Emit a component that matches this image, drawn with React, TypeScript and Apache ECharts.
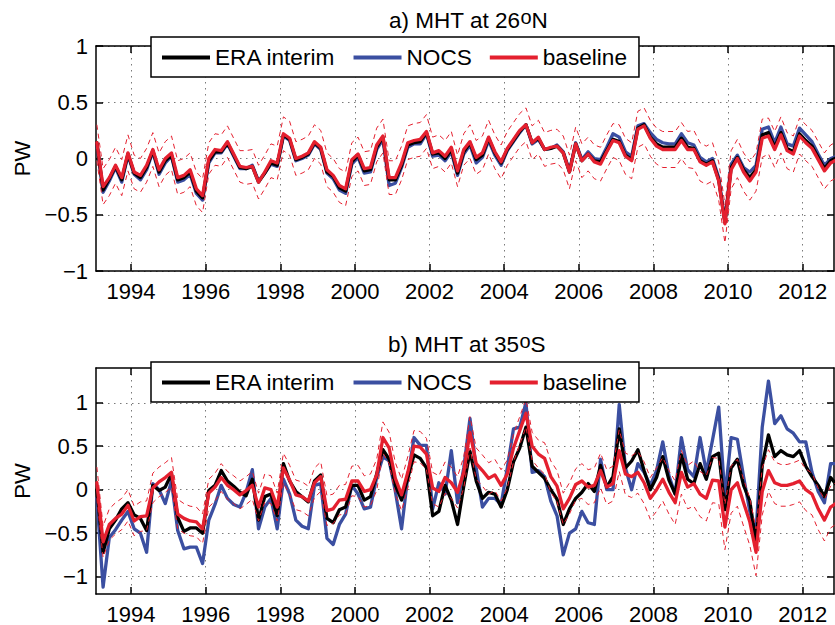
import React, { useEffect, useRef } from "react";
import * as echarts from "echarts";

// ---------------- data (bi-monthly samples, Jan 1993 .. Dec 2012) ----------------
const START_YEAR = 1993;
const STEPS_PER_YEAR = 6;
const X_MIN = 1993.06;
const X_MAX = 2012.84;
const xTickYears = [1994, 1996, 1998, 2000, 2002, 2004, 2006, 2008, 2010, 2012];
const yTicksA = [-1, -0.5, 0, 0.5, 1];
const yTicksB = [-1, -0.5, 0, 0.5, 1];
const legendNames = ["ERA interim", "NOCS", "baseline"];

// a) MHT at 26N
const baseA = [
  0.14, -0.25, -0.17, -0.06, -0.17, 0.05, // 1993
  -0.12, -0.15, -0.06, 0.08, -0.1, 0.0, // 1994
  0.05, -0.17, -0.15, -0.1, -0.27, -0.33, // 1995
  0.0, 0.08, 0.07, 0.15, 0.04, -0.07, // 1996
  -0.08, -0.07, -0.21, -0.12, -0.02, -0.04, // 1997
  0.22, 0.18, 0.0, 0.02, 0.05, 0.15, // 1998
  0.1, -0.1, -0.15, -0.24, -0.27, -0.01, // 1999
  0.04, -0.09, -0.08, 0.12, 0.2, -0.17, // 2000
  -0.17, -0.04, 0.14, 0.16, 0.17, 0.24, // 2001
  0.05, 0.07, 0.02, 0.1, -0.11, 0.08, // 2002
  0.15, 0.01, 0.05, 0.19, 0.06, -0.03, // 2003
  0.09, 0.17, 0.25, 0.3, 0.14, 0.19, // 2004
  0.08, 0.1, 0.11, 0.05, -0.12, 0.13, // 2005
  -0.02, 0.04, -0.03, -0.05, 0.06, 0.16, // 2006
  0.14, 0.02, -0.02, 0.26, 0.29, 0.18, // 2007
  0.11, 0.08, 0.08, 0.08, 0.16, 0.08, // 2008
  0.08, -0.03, -0.06, -0.03, -0.2, -0.58, // 2009
  -0.1, 0.0, -0.12, -0.2, -0.12, 0.18, // 2010
  0.2, 0.08, 0.21, 0.07, 0.04, 0.2, // 2011
  0.14, 0.09, -0.01, -0.11, -0.04, -0.01, // 2012
];
const eraA = [
  0.14, -0.28, -0.18, -0.07, -0.19, 0.04,
  -0.13, -0.17, -0.08, 0.07, -0.12, -0.02,
  0.03, -0.19, -0.17, -0.12, -0.29, -0.35,
  -0.02, 0.06, 0.06, 0.14, 0.03, -0.08,
  -0.09, -0.07, -0.21, -0.13, -0.04, -0.06,
  0.21, 0.17, -0.01, 0.01, 0.04, 0.14,
  0.09, -0.12, -0.16, -0.26, -0.29, -0.03,
  0.03, -0.11, -0.1, 0.1, 0.19, -0.19,
  -0.19, -0.06, 0.12, 0.14, 0.15, 0.23,
  0.04, 0.05, 0.0, 0.08, -0.13, 0.06,
  0.14, -0.01, 0.03, 0.18, 0.05, -0.04,
  0.08, 0.16, 0.24, 0.3, 0.14, 0.18,
  0.08, 0.09, 0.11, 0.05, -0.12, 0.13,
  -0.02, 0.04, -0.02, -0.03, 0.07, 0.17,
  0.15, 0.03, -0.01, 0.27, 0.3, 0.19,
  0.13, 0.1, 0.1, 0.1, 0.18, 0.1,
  0.09, -0.02, -0.05, -0.02, -0.19, -0.57,
  -0.08, 0.01, -0.1, -0.17, -0.1, 0.21,
  0.23, 0.1, 0.23, 0.09, 0.06, 0.22,
  0.16, 0.11, 0.01, -0.09, -0.02, 0.01,
];
const nocsA = [
  0.13, -0.3, -0.2, -0.08, -0.21, 0.03,
  -0.14, -0.19, -0.1, 0.06, -0.14, -0.04,
  0.02, -0.21, -0.19, -0.14, -0.31, -0.37,
  -0.04, 0.05, 0.05, 0.13, 0.02, -0.09,
  -0.09, -0.06, -0.2, -0.13, -0.05, -0.07,
  0.2, 0.16, -0.02, 0.0, 0.03, 0.13,
  0.08, -0.13, -0.18, -0.28, -0.31, -0.05,
  0.01, -0.13, -0.12, 0.08, 0.17, -0.24,
  -0.22, -0.08, 0.1, 0.13, 0.13, 0.22,
  0.02, 0.03, -0.02, 0.06, -0.15, 0.04,
  0.12, -0.04, 0.01, 0.16, 0.03, -0.06,
  0.07, 0.15, 0.23, 0.3, 0.13, 0.17,
  0.08, 0.09, 0.12, 0.06, -0.11, 0.14,
  -0.01, 0.06, 0.0, -0.01, 0.1, 0.22,
  0.19, 0.06, 0.02, 0.29, 0.31, 0.23,
  0.17, 0.14, 0.13, 0.13, 0.22, 0.14,
  0.12, 0.01, -0.03, 0.0, -0.17, -0.56,
  -0.05, 0.03, -0.08, -0.12, -0.06, 0.26,
  0.28, 0.14, 0.28, 0.13, 0.11, 0.27,
  0.21, 0.15, 0.04, -0.06, 0.0, 0.02,
];
// half-width of the dashed baseline uncertainty envelope, per year
const errA = [0.16, 0.15, 0.15, 0.14, 0.15, 0.15, 0.15, 0.15, 0.15, 0.14, 0.15, 0.15, 0.15, 0.15, 0.16, 0.16, 0.17, 0.17, 0.16, 0.16];

// b) MHT at 35S
const baseB = [
  0.08, -0.6, -0.4, -0.33, -0.28, -0.18, // 1993
  -0.36, -0.31, -0.3, 0.02, 0.09, 0.14, // 1994
  0.2, -0.28, -0.33, -0.36, -0.37, -0.45, // 1995
  -0.04, 0.03, 0.14, 0.05, 0.0, -0.06, // 1996
  -0.01, 0.05, -0.2, 0.02, 0.0, -0.2, // 1997
  0.25, 0.11, -0.06, -0.08, -0.13, 0.08, // 1998
  0.15, -0.24, -0.22, -0.12, -0.11, 0.1, // 1999
  0.1, -0.02, 0.0, 0.17, 0.6, 0.48, // 2000
  0.13, -0.06, 0.2, 0.5, 0.49, 0.41, // 2001
  0.02, -0.02, 0.14, 0.08, -0.03, 0.2, // 2002
  0.66, 0.3, 0.22, 0.13, 0.17, 0.05, // 2003
  0.18, 0.48, 0.68, 0.88, 0.5, 0.41, // 2004
  0.36, 0.15, 0.04, -0.22, -0.1, 0.06, // 2005
  0.1, 0.03, 0.05, 0.22, 0.03, 0.07, // 2006
  0.45, 0.18, 0.15, 0.2, 0.08, -0.1, // 2007
  0.0, 0.12, -0.03, -0.15, 0.2, 0.03, // 2008
  0.07, -0.05, -0.1, 0.11, 0.1, -0.43, // 2009
  0.0, 0.08, -0.15, -0.37, -0.72, -0.02, // 2010
  0.22, 0.08, 0.05, 0.05, 0.07, 0.1, // 2011
  0.0, -0.05, -0.22, -0.35, -0.2, -0.15, // 2012
];
const eraB = [
  0.0, -0.72, -0.45, -0.35, -0.22, -0.15,
  -0.29, -0.33, -0.47, 0.05, -0.01, 0.03,
  0.18, -0.32, -0.48, -0.44, -0.44, -0.5,
  -0.01, 0.05, 0.22, 0.1, 0.04, -0.03,
  -0.07, 0.12, -0.35, -0.08, -0.05, -0.3,
  0.3, 0.1, -0.02, -0.08, -0.14, 0.1,
  0.17, -0.33, -0.38, -0.23, -0.2, 0.05,
  0.05, -0.12, -0.08, 0.18, 0.46, 0.35,
  0.05, -0.12, 0.13, 0.4, 0.36, 0.25,
  -0.3, -0.25, 0.05, -0.12, -0.4, 0.04,
  0.44, 0.1, -0.1, -0.03, -0.05, -0.2,
  0.0, 0.32, 0.48, 0.72, 0.27, 0.2,
  0.13, 0.0, -0.11, -0.4, -0.22, -0.1,
  -0.03, 0.07, -0.02, 0.28, 0.03, 0.15,
  0.7, 0.25, 0.33, 0.46, 0.22, 0.0,
  0.14, 0.38, 0.11, -0.05, 0.4, 0.12,
  0.07, 0.3, 0.12, 0.38, 0.42, -0.23,
  0.25, 0.35, 0.05, -0.13, -0.62, 0.28,
  0.63, 0.38, 0.45, 0.4, 0.38, 0.45,
  0.27, 0.15, 0.05, -0.08, 0.14, 0.05,
];
const nocsB = [
  -0.1, -1.12, -0.55, -0.46, -0.35, -0.25,
  -0.45, -0.5, -0.72, 0.07, 0.0, -0.16,
  0.1, -0.47, -0.68, -0.66, -0.66, -0.85,
  -0.35, -0.17, 0.05, -0.1, -0.17, -0.2,
  -0.03, 0.23, -0.45, -0.2, -0.1, -0.45,
  0.12, -0.05, -0.35, -0.42, -0.45, 0.05,
  0.07, -0.56, -0.63, -0.4, -0.28, 0.05,
  -0.05, -0.22, -0.2, 0.14, 0.38, 0.33,
  -0.02, -0.45, 0.15, 0.6, 0.51, 0.51,
  -0.22, 0.08, -0.05, 0.45, -0.15, 0.25,
  0.82, 0.25, -0.2, -0.1, -0.1, -0.17,
  0.25, 0.7, 0.72, 1.0, 0.2, 0.22,
  0.15, -0.13, -0.3, -0.75, -0.5, -0.45,
  -0.25, -0.38, -0.4, 0.35, 0.0, 0.0,
  0.98, 0.25, 0.0, 0.3, 0.2, 0.05,
  0.22, 0.55, 0.16, -0.05, 0.6, 0.23,
  0.15, 0.6, 0.2, 0.57, 0.95, -0.08,
  0.6, 0.58, 0.15, -0.25, -0.5, 0.72,
  1.25, 0.76, 0.85, 0.7, 0.65, 0.55,
  0.55, 0.2, -0.02, -0.15, 0.3, 0.3,
];
const errB = [0.18, 0.17, 0.17, 0.16, 0.16, 0.17, 0.17, 0.18, 0.18, 0.18, 0.18, 0.16, 0.18, 0.2, 0.24, 0.25, 0.26, 0.27, 0.24, 0.24];

// ---------------- styling ----------------
const BLUE = "#3b4fa1";
const RED = "#e4202f";
const BLACK = "#000000";
const FONT = "'Liberation Sans', Arial, Helvetica, sans-serif";

const times = baseA.map((_, i) => START_YEAR + (2 * i + 1) / (2 * STEPS_PER_YEAR));
const pairs = (vals: number[]) => vals.map((v, i) => [times[i], v]);
const band = (vals: number[], err: number[], sign: number) =>
  vals.map((v, i) => [times[i], +(v + sign * err[Math.floor(i / STEPS_PER_YEAR)]).toFixed(3)]);

const fmtY = (v: number) => (v < 0 ? "\u2212" : "") + String(Math.abs(v));

const axisLine = { show: true, onZero: false, lineStyle: { color: BLACK, width: 1.5 } };
const gridLine = { show: true, lineStyle: { color: "#7a7a7a", width: 1, type: [1.5, 4.5] } };
const labelStyle = { color: BLACK, fontSize: 22, fontFamily: FONT };

function xAxes(gridIndex: number) {
  return [
    {
      type: "value", gridIndex, position: "bottom", min: X_MIN, max: X_MAX,
      axisLine,
      axisTick: { show: true, inside: true, length: 7, lineStyle: { color: BLACK, width: 1.5 }, customValues: xTickYears },
      axisLabel: { show: true, customValues: xTickYears, margin: 9, ...labelStyle, formatter: (v: number) => String(Math.round(v)) },
      splitLine: gridLine,
    },
    {
      type: "value", gridIndex, position: "top", min: X_MIN, max: X_MAX,
      axisLine,
      axisTick: { show: true, inside: true, length: 7, lineStyle: { color: BLACK, width: 1.5 }, customValues: xTickYears },
      axisLabel: { show: false, customValues: xTickYears },
      splitLine: { show: false },
    },
  ];
}

function yAxes(gridIndex: number, min: number, max: number, ticks: number[]) {
  return [
    {
      type: "value", gridIndex, position: "left", min, max,
      axisLine,
      axisTick: { show: true, inside: true, length: 7, lineStyle: { color: BLACK, width: 1.5 }, customValues: ticks },
      axisLabel: { show: true, customValues: ticks, margin: 8, ...labelStyle, formatter: fmtY },
      splitLine: gridLine,
      name: "PW", nameLocation: "middle", nameGap: 60,
      nameTextStyle: { ...labelStyle },
    },
    {
      type: "value", gridIndex, position: "right", min, max,
      axisLine,
      axisTick: { show: true, inside: true, length: 7, lineStyle: { color: BLACK, width: 1.5 }, customValues: ticks },
      axisLabel: { show: false, customValues: ticks },
      splitLine: { show: false },
    },
  ];
}

function panelSeries(p: number, era: number[], nocs: number[], base: number[], err: number[]) {
  const common = {
    type: "line", xAxisIndex: p * 2, yAxisIndex: p * 2, showSymbol: false, symbol: "none",
    silent: true, clip: true, z: 2,
  };
  const thick = (color: string) => ({ color, width: 3.3, join: "round", cap: "round" });
  const dashed = { color: RED, width: 1, type: [5, 4] };
  return [
    { ...common, name: "NOCS", data: pairs(nocs), lineStyle: thick(BLUE), itemStyle: { color: BLUE } },
    { ...common, name: "ERA interim", data: pairs(era), lineStyle: thick(BLACK), itemStyle: { color: BLACK } },
    { ...common, name: "baseline", data: pairs(base), lineStyle: thick(RED), itemStyle: { color: RED } },
    { ...common, name: "baseline upper " + p, data: band(base, err, 1), lineStyle: dashed, itemStyle: { color: RED } },
    { ...common, name: "baseline lower " + p, data: band(base, err, -1), lineStyle: dashed, itemStyle: { color: RED } },
  ];
}

function legendAt(top: number) {
  return {
    data: legendNames,
    left: 151, top, orient: "horizontal",
    icon: "rect", itemWidth: 48, itemHeight: 4, itemGap: 18,
    textStyle: { ...labelStyle, fontSize: 22.6 },
    borderColor: BLACK, borderWidth: 1.5, backgroundColor: "#fff",
    padding: [9, 12, 8, 11],
    selectedMode: false,
  };
}

function titleTexts(y: number, main: string, last: string, right: number) {
  return [
    { type: "text", x: right, y, style: { text: main, align: "right", verticalAlign: "middle", fill: BLACK, font: `22.5px ${FONT}` } },
    { type: "text", x: right + 0.5, y: y - 3.5, style: { text: "o", align: "left", verticalAlign: "middle", fill: BLACK, font: `20px ${FONT}` } },
    { type: "text", x: right + 11.5, y, style: { text: last, align: "left", verticalAlign: "middle", fill: BLACK, font: `22.5px ${FONT}` } },
  ];
}

export default function App() {
  const ref = useRef<HTMLDivElement>(null);
  useEffect(() => {
    if (!ref.current) return;
    const chart = echarts.init(ref.current, undefined, { renderer: "svg" });
    const option: any = {
      animation: false,
      backgroundColor: "#fff",
      textStyle: { fontFamily: FONT },
      grid: [
        { left: 96, right: 1, top: 46, height: 225, outerBoundsMode: "none" },
        { left: 96, right: 1, top: 368, height: 226, outerBoundsMode: "none" },
      ],
      xAxis: [...xAxes(0), ...xAxes(1)],
      yAxis: [...yAxes(0, -1, 1, yTicksA), ...yAxes(1, -1.2, 1.4, yTicksB)],
      legend: [legendAt(37), legendAt(362)],
      series: [
        ...panelSeries(0, eraA, nocsA, baseA, errA),
        ...panelSeries(1, eraB, nocsB, baseB, errB),
      ],
      graphic: [
        ...titleTexts(20, "a) MHT at 26", "N", 520),
        ...titleTexts(344, "b) MHT at 35", "S", 519),
      ],
    };
    chart.setOption(option);
    return () => chart.dispose();
  }, []);
  return (
    <div
      ref={ref}
      style={{ position: "fixed", left: 0, top: 0, width: 835, height: 625, background: "#fff" }}
    />
  );
}
